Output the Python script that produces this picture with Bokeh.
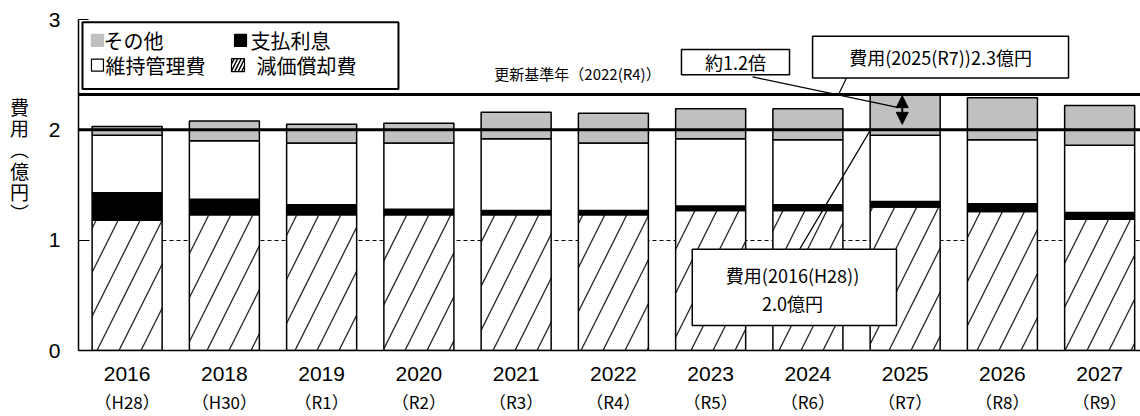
from bokeh.plotting import figure
from bokeh.layouts import row
from bokeh.models import (Range1d, FixedTicker, LinearAxis, Span, Arrow,
                          NormalHead, ColumnDataSource)
from bokeh.core.properties import value
from bokeh.embed import file_html
from bokeh.resources import INLINE

# ---------------- data ----------------
years = ["2016", "2018", "2019", "2020", "2021", "2022", "2023", "2024", "2025", "2026", "2027"]
eras = ["（H28）", "（H30）", "（R1）", "（R2）", "（R3）", "（R4）", "（R5）", "（R6）", "（R7）", "（R8）", "（R9）"]
depreciation = [1.18, 1.23, 1.23, 1.23, 1.23, 1.23, 1.27, 1.27, 1.30, 1.26, 1.19]   # 減価償却費
interest     = [0.25, 0.14, 0.09, 0.05, 0.04, 0.04, 0.04, 0.05, 0.05, 0.07, 0.06]   # 支払利息
maintenance  = [0.52, 0.53, 0.56, 0.60, 0.65, 0.61, 0.61, 0.59, 0.60, 0.58, 0.61]   # 維持管理費
other        = [0.08, 0.18, 0.17, 0.18, 0.24, 0.27, 0.27, 0.28, 0.37, 0.38, 0.36]   # その他
base_cost = 2.0          # 費用(2016(H28)) 2.0億円
peak_index = 8           # 2025(R7)
y_ticks = [0, 1, 2, 3]
y_title = "費\n用\n︵\n億\n円\n︶"

series_names = ["depreciation", "interest", "maintenance", "other"]
totals = [round(a + b + c + d, 2) for a, b, c, d in zip(depreciation, interest, maintenance, other)]
peak_cost = totals[peak_index]

src = ColumnDataSource(dict(x=list(range(len(years))), depreciation=depreciation,
                            interest=interest, maintenance=maintenance, other=other))

JP = "Noto Sans CJK JP"
NUM = "Liberation Sans"
H = 416

# ---- narrow side panel holding the stacked vertical y-axis title ----
side = figure(width=40, height=H, x_range=Range1d(0, 40), y_range=Range1d(0, H),
              output_backend="svg", toolbar_location=None,
              min_border_left=0, min_border_right=0, min_border_top=0, min_border_bottom=0)
side.axis.visible = False
side.grid.visible = False
side.outline_line_color = None
side.text(x=[19], y=[H - 176], text=[y_title], text_font=value(JP), text_font_size="19px",
          text_align="center", text_baseline="middle", text_line_height=0.78, text_color="black")

# ---- main chart ----
p = figure(width=1100, height=H, x_range=Range1d(-0.5, 10.42), y_range=Range1d(0, 3),
           output_backend="svg", toolbar_location=None,
           min_border_left=38, min_border_right=0, min_border_top=19, min_border_bottom=63)
p.outline_line_color = None
p.background_fill_color = "white"

# grid
p.xgrid.visible = False
p.ygrid.ticker = FixedTicker(ticks=y_ticks)
p.ygrid.grid_line_color = "black"
p.ygrid.grid_line_dash = "4 3"
p.ygrid.grid_line_width = 1

# axes
xa = p.xaxis[0]
xa.ticker = FixedTicker(ticks=list(range(len(years))))
xa.major_label_overrides = {i: y for i, y in enumerate(years)}
xa.axis_line_width = 1.5
xa.major_tick_in = 0
xa.major_tick_out = 0
xa.minor_tick_line_color = None
xa.major_label_text_font = NUM
xa.major_label_text_font_size = "21px"
xa.major_label_text_color = "black"
xa.major_label_standoff = 16

xa2 = LinearAxis(ticker=FixedTicker(ticks=list(range(len(years)))),
                 major_label_overrides={i: e for i, e in enumerate(eras)})
xa2.axis_line_color = None
xa2.major_tick_line_color = None
xa2.minor_tick_line_color = None
xa2.major_tick_in = 0
xa2.major_tick_out = 0
xa2.major_label_text_font = JP
xa2.major_label_text_font_size = "17px"
xa2.major_label_text_color = "black"
xa2.major_label_standoff = 5
p.add_layout(xa2, "below")

ya = p.yaxis[0]
ya.ticker = FixedTicker(ticks=y_ticks)
ya.axis_line_width = 1.5
ya.major_tick_in = 10
ya.major_tick_out = 0
ya.minor_tick_line_color = None
ya.major_label_text_font = NUM
ya.major_label_text_font_size = "21px"
ya.major_label_text_color = "black"
ya.major_label_standoff = 18

# bars
p.vbar_stack(series_names, x="x", width=0.72, source=src,
             fill_color=["white", "black", "white", "#C0C0C0"],
             line_color="black", line_width=1.5,
             hatch_pattern=["/", " ", " ", " "], hatch_color="#222222",
             hatch_scale=44, hatch_weight=1.3)

# reference lines
p.add_layout(Span(location=base_cost, dimension="width", line_color="black", line_width=3))
p.add_layout(Span(location=peak_cost, dimension="width", line_color="black", line_width=3))

# double arrow
p.add_layout(Arrow(x_start=7.97, y_start=(base_cost + peak_cost) / 2, x_end=7.97, y_end=peak_cost - 0.01,
                   line_width=2, line_color="black",
                   end=NormalHead(size=12, fill_color="black", line_color="black")))
p.add_layout(Arrow(x_start=7.97, y_start=(base_cost + peak_cost) / 2, x_end=7.97, y_end=base_cost + 0.05,
                   line_width=2, line_color="black",
                   end=NormalHead(size=12, fill_color="black", line_color="black")))

# connector lines
p.segment(x0=[6.431, 7.397, 6.914], y0=[2.48, 2.469, 0.917],
          x1=[7.921, 7.315, 7.644], y1=[2.203, peak_cost, base_cost],
          line_color="black", line_width=1.2)

# callout boxes + legend box
p.quad(left=[5.700, 7.048, 5.811], right=[6.811, 9.680, 7.911],
       top=[2.729, 2.848, 0.917], bottom=[2.500, 2.469, 0.227],
       fill_color="white", line_color="black", line_width=1.5)
p.quad(left=[-0.459], right=[2.790], top=[2.975], bottom=[2.370],
       fill_color="white", line_color="black", line_width=2)

# callout texts
p.text(x=[6.256, 8.364, 6.842, 6.842], y=[2.615, 2.66, 0.687, 0.433],
       text=["約1.2倍", "費用(2025(R7))2.3億円", "費用(2016(H28))", "2.0億円"],
       text_font=value(JP), text_font_size="18px", text_align="center",
       text_baseline="middle", text_color="black")
p.text(x=[4.631], y=[2.514], text=["更新基準年（2022(R4)）"],
       text_font=value(JP), text_font_size="15px", text_align="center",
       text_baseline="middle", text_color="black")

# legend
p.rect(x=[-0.305, 1.166, -0.305], y=[2.81, 2.81, 2.586], width=12, height=12,
       width_units="screen", height_units="screen",
       fill_color=["#C0C0C0", "black", "white"], line_color=["#C0C0C0", "black", "black"], line_width=1.2)
p.rect(x=[1.140], y=[2.586], width=13, height=13, width_units="screen", height_units="screen",
       fill_color="white", line_color="black", line_width=1.2,
       hatch_pattern="/", hatch_scale=7, hatch_weight=1.5, hatch_color="black")
p.text(x=[-0.243, 1.269, -0.222, 1.330], y=[2.81, 2.81, 2.586, 2.586],
       text=["その他", "支払利息", "維持管理費", "減価償却費"],
       text_font=value(JP), text_font_size="20px", text_align="left",
       text_baseline="middle", text_color="black")

layout = row(side, p, spacing=0)
open("out.html", "w").write(file_html(layout, INLINE))
